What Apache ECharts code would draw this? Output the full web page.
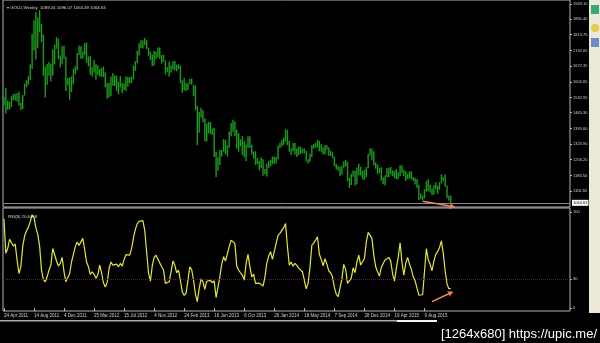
<!DOCTYPE html>
<html><head><meta charset="utf-8">
<script src="https://cdn.jsdelivr.net/npm/echarts@6/dist/echarts.min.js"></script>
<style>html,body{margin:0;padding:0;background:#000;}#c{width:600px;height:343px;}</style>
</head><body><div id="c"></div>
<script>
// ---- data ----
const tickLabels = ['24 Apr 2011','14 Aug 2011','4 Dec 2011','25 Mar 2012','15 Jul 2012','4 Nov 2012','24 Feb 2013','16 Jun 2013','6 Oct 2013','26 Jan 2014','18 May 2014','7 Sep 2014','28 Dec 2014','19 Apr 2015','9 Aug 2015'];
const priceTicks = [1116.80,1186.50,1256.20,1325.90,1395.60,1465.30,1532.95,1602.65,1672.35,1742.05,1813.75,1881.40,1949.10];
const rsiTicks = [0,30,100];
const headerText = 'GOLD,Weekly  1089.24 1096.07 1064.49 1064.63';
const rsiText = 'RSI(8) 20.6458';
const bidPrice = 1064.63;
const rsiLevel = 30;

const highs = [
1536,1577,1520,1513,1539,1549,1550,1553,1560,1510,
1544,1595,1610,1628,1681,1817,1877,1912,1889,1921,
1860,1813,1671,1682,1691,1683,1747,1768,1802,1795,
1720,1761,1763,1716,1620,1622,1627,1660,1672,1730,
1764,1761,1738,1775,1778,1716,1717,1668,1700,1681,
1677,1660,1665,1671,1645,1599,1598,1627,1642,1632,
1629,1604,1628,1598,1595,1627,1625,1623,1626,1675,
1695,1740,1775,1788,1788,1798,1788,1755,1737,1724,
1740,1737,1755,1755,1722,1723,1698,1669,1693,1675,
1694,1696,1679,1681,1675,1610,1620,1598,1597,1616,
1617,1589,1587,1496,1469,1488,1476,1440,1417,1425,
1424,1395,1398,1292,1267,1299,1299,1348,1345,1321,
1382,1420,1434,1425,1391,1374,1347,1361,1337,1324,
1361,1361,1323,1293,1294,1265,1251,1267,1258,1215,
1239,1251,1256,1271,1270,1268,1320,1332,1345,1355,
1392,1388,1340,1306,1331,1331,1307,1315,1315,1306,
1306,1296,1258,1283,1321,1326,1332,1345,1340,1325,
1312,1322,1321,1311,1297,1290,1270,1238,1229,1225,
1229,1250,1255,1246,1176,1193,1208,1206,1222,1238,
1225,1206,1212,1224,1282,1307,1306,1294,1245,1235,
1219,1223,1178,1187,1219,1221,1224,1209,1206,1215,
1200,1232,1232,1212,1205,1194,1205,1205,1180,1175,
1170,1145,1105,1097,1125,1162,1170,1145,1128,1143,
1156,1140,1157,1191,1178,1191,1142,1097,1096.07];

const lows = [
1500,1462,1478,1480,1490,1521,1520,1515,1497,1478,
1482,1542,1578,1589,1611,1660,1742,1702,1752,1823,
1780,1630,1532,1590,1630,1604,1631,1680,1750,1704,
1667,1681,1705,1562,1587,1523,1558,1592,1636,1654,
1722,1705,1705,1721,1688,1672,1634,1627,1644,1612,
1633,1626,1625,1624,1578,1527,1533,1540,1585,1584,
1562,1547,1578,1552,1566,1562,1582,1596,1598,1614,
1651,1686,1720,1753,1751,1767,1749,1719,1700,1672,
1675,1704,1712,1705,1683,1693,1636,1647,1626,1644,
1658,1653,1649,1659,1597,1554,1565,1562,1566,1592,
1590,1539,1476,1321,1376,1444,1423,1339,1337,1373,
1371,1366,1268,1180,1207,1233,1271,1292,1281,1271,
1310,1361,1381,1362,1305,1292,1316,1277,1267,1251,
1310,1309,1279,1261,1233,1236,1210,1220,1185,1193,
1182,1219,1227,1236,1238,1240,1258,1309,1315,1323,
1336,1321,1292,1277,1294,1278,1268,1277,1282,1285,
1285,1250,1240,1247,1268,1305,1310,1310,1293,1292,
1281,1280,1299,1274,1273,1263,1227,1213,1207,1183,
1190,1221,1226,1161,1131,1144,1181,1142,1147,1187,
1186,1170,1167,1178,1218,1275,1253,1231,1216,1192,
1197,1162,1147,1142,1180,1178,1192,1183,1174,1170,
1169,1183,1196,1184,1162,1170,1172,1169,1162,1146,
1130,1077,1080,1077,1084,1114,1116,1111,1098,1102,
1125,1105,1123,1151,1161,1136,1085,1075,1064.49];

const rsiValues = [
93,57,62,71.5,70,64.6,66.7,50,36,43,
64,75,80.5,84,90,97,94.4,83.7,76.7,64.6,
39.6,29.9,27.4,32.6,39.6,44.8,62,61,49,43.7,
46.5,52.8,37.8,27.4,26.4,36,48,56,64,68.8,
65.3,66.7,72.6,61,48,43,35,37.8,35.4,31,
34.4,44.8,36.8,26.4,22,27,41,48,44.8,44.8,
45.8,43,46.5,43.7,50.7,55.6,55.2,55.2,62,73.3,
82,88,90.3,91,91,81,58.7,36.8,28,44,
52.8,55,53.5,47,43,39.6,25.7,24,27.4,37.8,
49,44.8,36.8,39.6,28.5,17,13.2,15.3,29,43,
40,29,14.6,6.6,20.5,30.5,27.4,19.4,28,26,
28.8,26.4,28.5,11,10.8,32.6,45.8,53.5,49,49,
64,70.8,70.8,67.4,43.7,39.6,36.8,34.4,29,46.5,
56,43,32.6,35.4,25.7,27,26,26.4,23,32,
46.5,54,58.7,50.7,50,67.4,75.7,77.8,79.5,83.7,
88,64,44.8,48,43.7,46.5,44.4,41.7,42,37.8,
29,20,25.7,42.4,65.6,67.7,70.8,74.3,56,50.7,
44,51.4,45.8,38.9,36.8,32.6,21.5,14.6,11.8,10.8,
30.5,45.5,40.3,25.7,25,31.3,42,36.8,48,55.2,
44.8,44.8,51.7,69,78.8,80.5,72.6,55.2,43,37.8,
33.3,42.4,46.5,50,50.7,52.8,49,36,28,41.3,
52.8,68,48,34.4,46.5,52.8,45.8,40.3,32.6,28.5,
20.8,13.5,11.8,13.9,37.8,62,50,45.8,38.9,49,
56,58.7,63,70,57,38.9,25,20,20.6458];

// annotation arrows (drawn by the author of the screenshot), in data units
const priceArrow = [['223', 1072], ['240', 1047]];
const rsiArrow = [['228', 6.7], ['239', 16.8]];

// ---- layout / style ----
const totalSlots = 302;      // bars + empty chart shift on the right
const tickEvery = 16;
const barColor = '#1c9c1c';
const categories = Array.from({length: totalSlots}, (_, i) => String(i));
const barData = highs.map((h, i) => [i, lows[i], h]);
const showTick = (idx) => idx % tickEvery === 0 && idx / tickEvery < tickLabels.length;
const font = 'Liberation Sans, Arial, sans-serif';

const chart = echarts.init(document.getElementById('c'), null, {renderer: 'canvas'});
chart.setOption({
  animation: false,
  backgroundColor: '#000000',
  color: [barColor, '#e6e63a'],
  title: [
    {text: '\u25BE ' + headerText, left: 2, top: 1, textStyle: {fontSize: 4.3, color: '#d8d8d8', fontWeight: 'normal', fontFamily: font}},
    {text: rsiText, left: 3, top: 210, textStyle: {fontSize: 4.3, color: '#d8d8d8', fontWeight: 'normal', fontFamily: font}}
  ],
  grid: [
    {left: 3, top: -1, width: 567, height: 208, show: true, borderColor: '#b4b4b4', borderWidth: 1, backgroundColor: 'transparent'},
    {left: 3, top: 208, width: 567, height: 103, show: true, borderColor: '#b4b4b4', borderWidth: 1, backgroundColor: 'transparent'}
  ],
  xAxis: [
    {gridIndex: 0, type: 'category', data: categories, boundaryGap: true, show: false},
    {gridIndex: 1, type: 'category', data: categories, boundaryGap: true,
      axisLine: {show: false},
      axisTick: {show: true, alignWithLabel: true, length: 3, interval: (i) => showTick(i), lineStyle: {color: '#c0c0c0'}},
      axisLabel: {interval: (i) => showTick(i), formatter: (v, i) => tickLabels[Math.round(i / tickEvery)] || '',
        align: 'left', fontSize: 4.5, color: '#d0d0d0', margin: 2.5, fontFamily: font},
      splitLine: {show: false}}
  ],
  yAxis: [
    {gridIndex: 0, type: 'value', position: 'right', min: 1046.0, max: 1966.8, scale: true,
      axisLine: {show: false}, splitLine: {show: false},
      axisTick: {show: true, length: 2, customValues: priceTicks, lineStyle: {color: '#b4b4b4'}},
      axisLabel: {customValues: priceTicks, formatter: (v) => v.toFixed(2), fontSize: 4, color: '#d0d0d0', margin: 3, fontFamily: font}},
    {gridIndex: 1, type: 'value', position: 'right', min: -3.0, max: 104.2,
      axisLine: {show: false}, splitLine: {show: false},
      axisTick: {show: true, length: 2, customValues: rsiTicks, lineStyle: {color: '#b4b4b4'}},
      axisLabel: {customValues: rsiTicks, formatter: (v) => String(v), fontSize: 4, color: '#d0d0d0', margin: 3, fontFamily: font}}
  ],
  series: [
    {
      type: 'custom', name: 'GOLD', xAxisIndex: 0, yAxisIndex: 0, data: barData, clip: true, silent: true,
      itemStyle: {color: barColor},
      encode: {x: 0, y: [1, 2]},
      renderItem: function (params, api) {
        const idx = api.value(0);
        const lo = api.coord([idx, api.value(1)]);
        const hi = api.coord([idx, api.value(2)]);
        return {type: 'line', shape: {x1: lo[0], y1: lo[1], x2: hi[0], y2: hi[1]},
          style: {stroke: barColor, fill: null, lineWidth: 1.4}, emphasisDisabled: true};
      },
      markLine: {
        silent: true, animation: false,
        data: [
          [{yAxis: bidPrice, x: 3, symbol: 'none', lineStyle: {color: '#8a8a8a', width: 1, type: 'solid'},
            label: {show: true, position: 'end', formatter: bidPrice.toFixed(2), backgroundColor: '#ffffff', color: '#000000', fontSize: 4, padding: [1, 1], distance: 2, fontFamily: font}},
           {yAxis: bidPrice, x: 570, symbol: 'none'}],
          [{coord: priceArrow[0], symbol: 'none', lineStyle: {color: '#f4875a', width: 1.5, type: 'solid'}, label: {show: false}},
           {coord: priceArrow[1], symbol: 'arrow', symbolSize: 5}]
        ]
      }
    },
    {
      type: 'line', name: 'RSI', xAxisIndex: 1, yAxisIndex: 1, data: rsiValues, symbol: 'none', silent: true,
      lineStyle: {color: '#e6e63a', width: 1.2},
      markLine: {
        silent: true, animation: false,
        data: [
          [{yAxis: rsiLevel, x: 3, symbol: 'none', lineStyle: {color: '#5e2044', width: 1, type: 'dotted'}, label: {show: false}},
           {yAxis: rsiLevel, x: 570, symbol: 'none'}],
          [{coord: rsiArrow[0], symbol: 'none', lineStyle: {color: '#f4875a', width: 1.5, type: 'solid'}, label: {show: false}},
           {coord: rsiArrow[1], symbol: 'arrow', symbolSize: 5}]
        ]
      }
    }
  ],
  graphic: [
    {type: 'rect', shape: {x: 589, y: 0, width: 11, height: 313}, style: {fill: '#ece9d8'}, silent: true},
    {type: 'rect', shape: {x: 591, y: 5, width: 8, height: 9}, style: {fill: '#3aa878'}, silent: true},
    {type: 'circle', shape: {cx: 595, cy: 28, r: 4}, style: {fill: '#e4cc4a'}, silent: true},
    {type: 'rect', shape: {x: 591, y: 38, width: 8, height: 9}, style: {fill: '#6a8cc8'}, silent: true},
    {type: 'rect', shape: {x: 0, y: 320, width: 437, height: 1.5}, style: {fill: '#a8a8a8'}, silent: true},
    {type: 'rect', shape: {x: 397, y: 320, width: 40, height: 2}, style: {fill: '#f4f4f4'}, silent: true},
    {type: 'text', x: 597, y: 341, style: {text: '[1264x680] https://upic.me/', fill: '#ffffff', fontSize: 13, fontFamily: font, align: 'right', verticalAlign: 'bottom'}, silent: true}
  ]
});
</script>
</body></html>
